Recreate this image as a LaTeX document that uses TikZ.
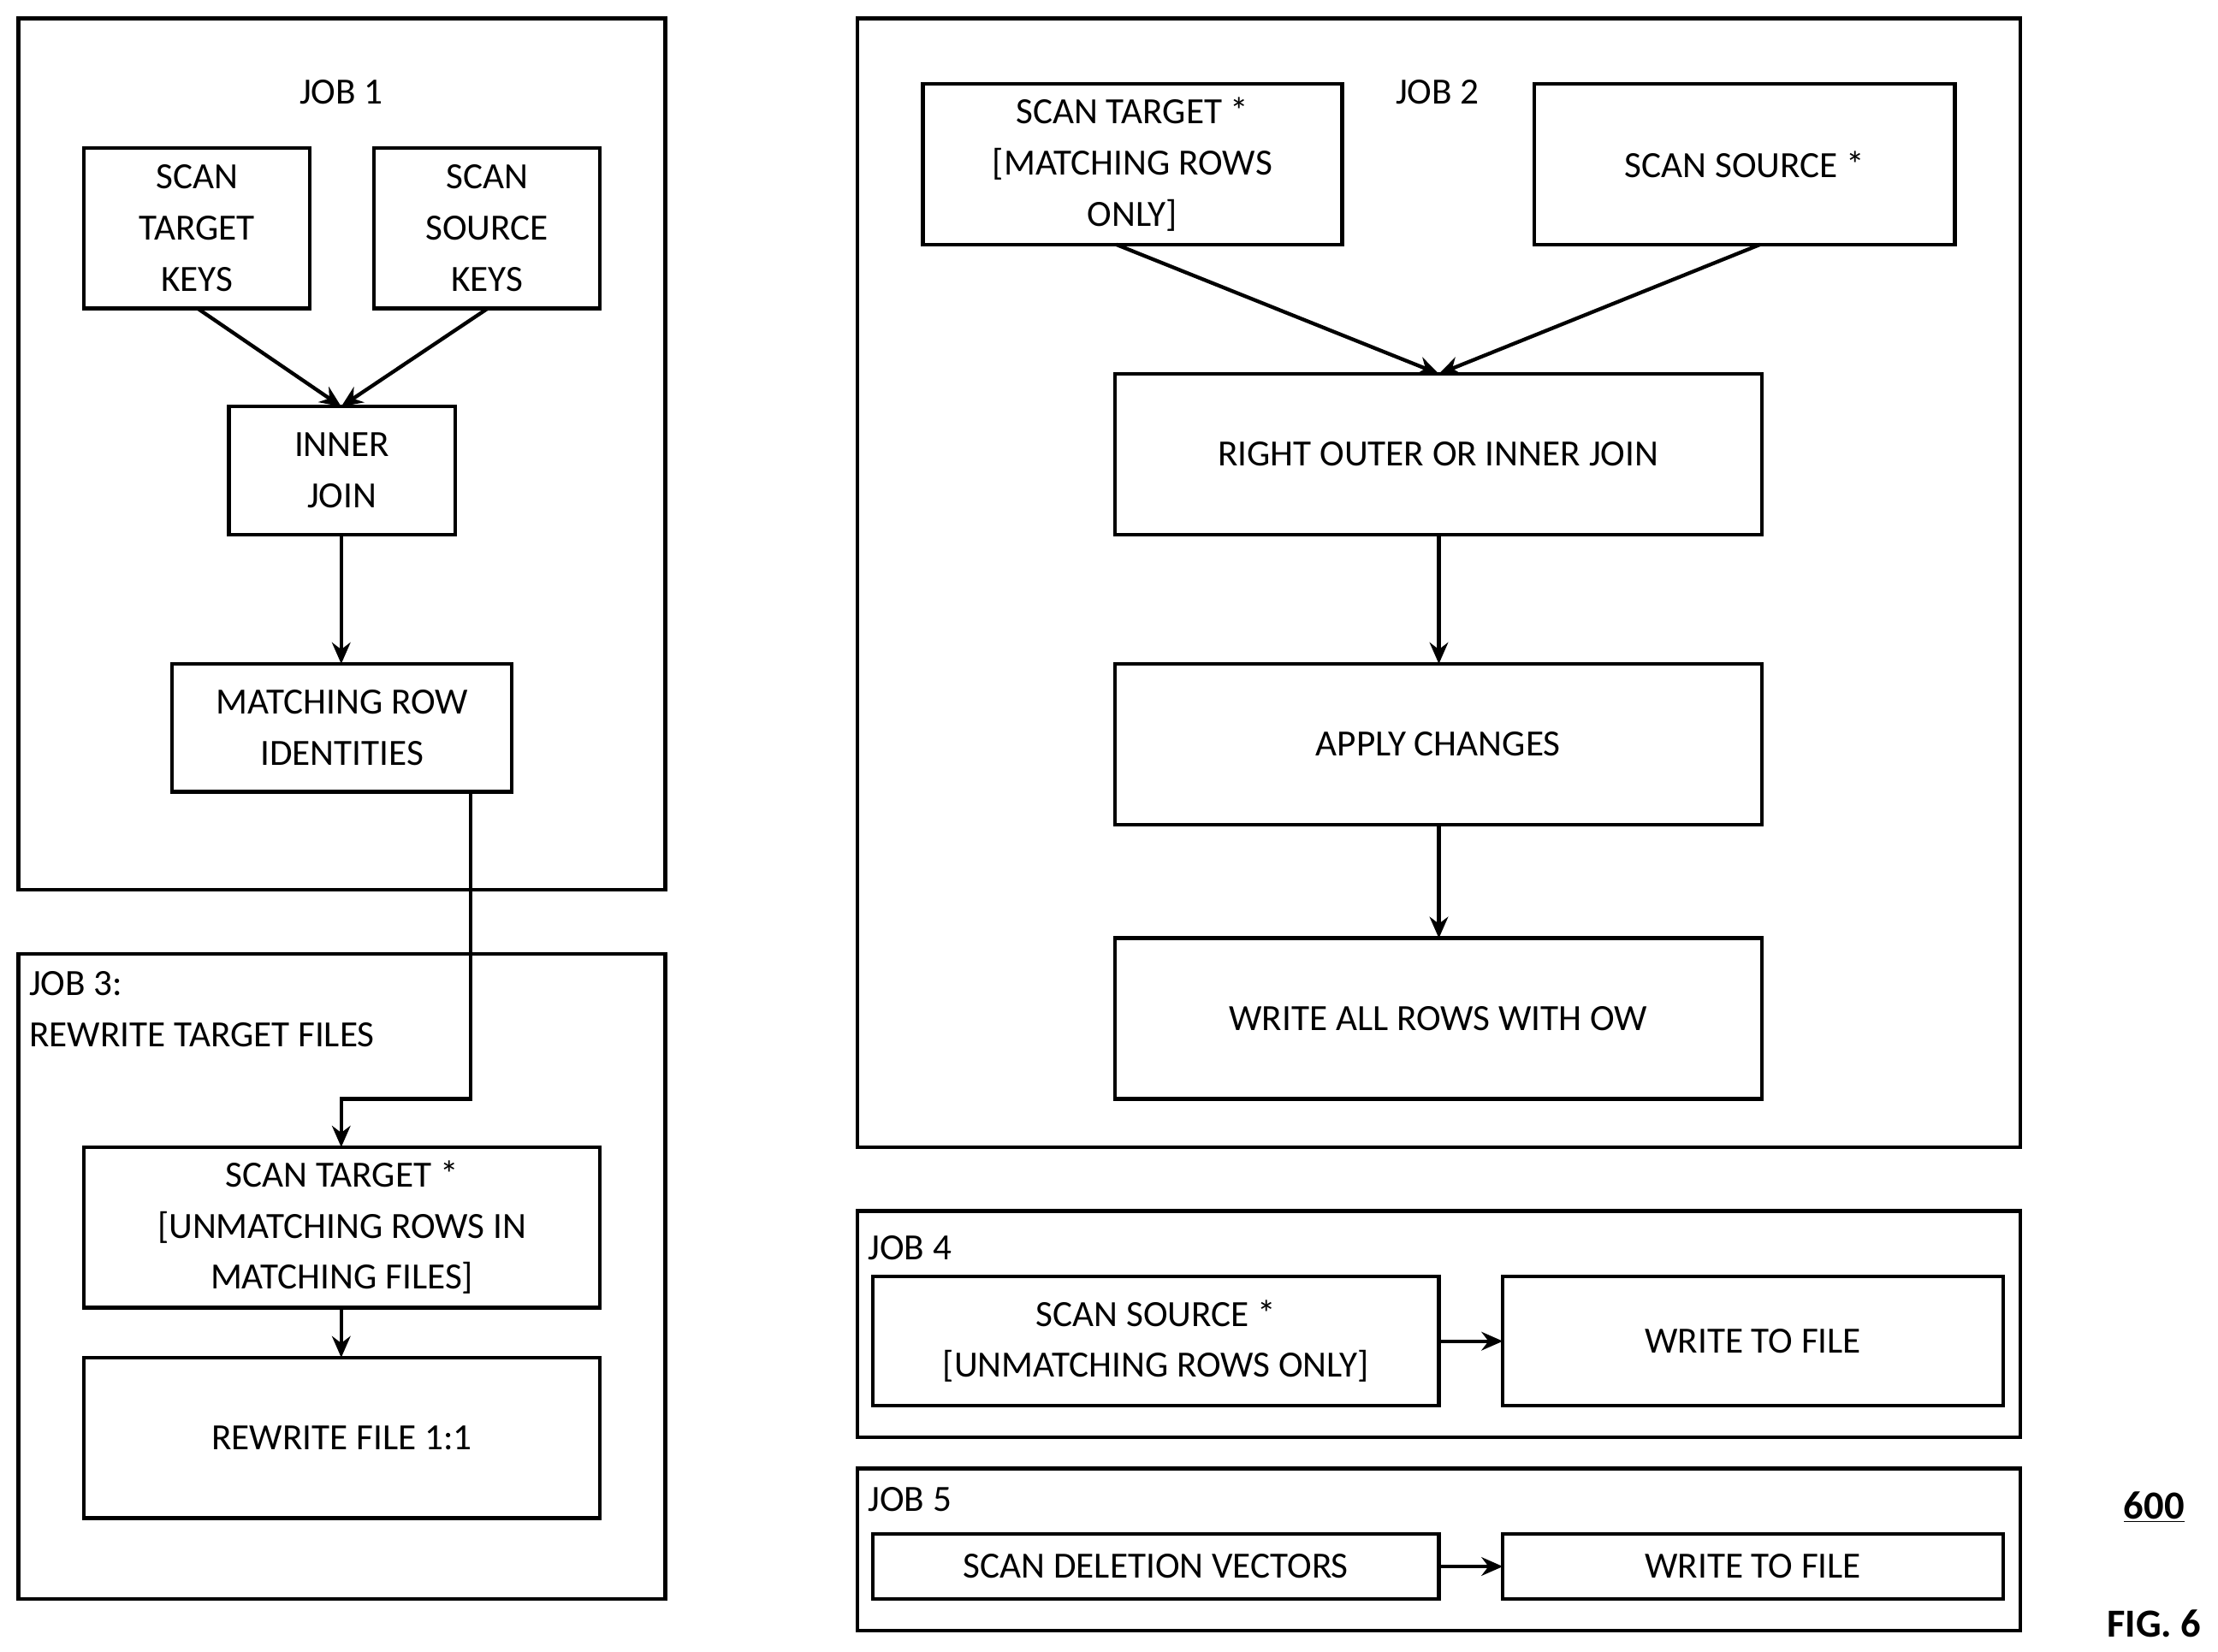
\documentclass[tikz,border=0pt]{standalone}
\usepackage{fontspec}
\setmainfont{Carlito}
\usetikzlibrary{arrows.meta}
\begin{document}
\begin{tikzpicture}[x=1pt,y=-1pt,
  box/.style={draw,line width=2.6pt},
  frame/.style={draw,line width=2.6pt},
  lbl/.style={align=center,font=\fontsize{26}{36}\selectfont},
  arr/.style={line width=2.6pt,-{Stealth[length=15pt,width=13pt]}}]
\useasboundingbox (0,0) rectangle (1560,1162);
% frames
\draw[frame] (13,13) rectangle (468,626);
\draw[frame] (13,671) rectangle (468,1125);
\draw[frame] (603,13) rectangle (1421,807);
\draw[frame] (603,852) rectangle (1421,1011);
\draw[frame] (603,1033) rectangle (1421,1147);
\node[lbl] (t1) at (240,65) {JOB 1};
\node[lbl] (t2) at (1011,65) {JOB 2};
\node[lbl,align=left,anchor=north west] (t3) at (17,680) {JOB 3:\\REWRITE TARGET FILES};
\node[lbl,anchor=west] (t4) at (607,878) {JOB 4};
\node[lbl,anchor=west] (t5) at (607,1055) {JOB 5};
% job1
\draw[box] (59,104) rectangle (218,217); \node[lbl] (stk) at (138.5,160.5) {SCAN\\TARGET\\KEYS};
\draw[box] (263,104) rectangle (422,217); \node[lbl] (ssk) at (342.5,160.5) {SCAN\\SOURCE\\KEYS};
\draw[box] (161,286) rectangle (320,376); \node[lbl] (ij) at (240.5,331) {INNER\\JOIN};
\draw[box] (121,467) rectangle (360,557); \node[lbl] (mri) at (240.5,512) {MATCHING ROW\\IDENTITIES};
\coordinate (stkb) at (139,217); \coordinate (sskb) at (343,217);
\coordinate (ijt) at (240,286); \coordinate (ijb) at (240,376); \coordinate (mrit) at (240,467);
\draw[arr] (stkb) -- (ijt);
\draw[arr] (sskb) -- (ijt);
\draw[arr] (ijb) -- (mrit);
% job3
\draw[box] (59,807) rectangle (422,920); \node[lbl] (st3) at (240.5,863.5) {SCAN TARGET *\\{[}UNMATCHING ROWS IN\\MATCHING FILES{]}};
\draw[box] (59,955) rectangle (422,1068); \node[lbl] (rw) at (240.5,1011.5) {REWRITE FILE 1:1};
\coordinate (mrib) at (331,557); \coordinate (st3t) at (240,807);
\coordinate (st3b) at (240,920); \coordinate (rwt) at (240,955);
\draw[arr] (mrib) |- (285,773) -| (st3t);
\draw[arr] (st3b) -- (rwt);
% job2
\draw[box] (649,59) rectangle (944,172); \node[lbl] (st2) at (796.5,115.5) {SCAN TARGET *\\{[}MATCHING ROWS\\ONLY{]}};
\draw[box] (1079,59) rectangle (1375,172); \node[lbl] (ss2) at (1227,115.5) {SCAN SOURCE *};
\draw[box] (784,263) rectangle (1239,376); \node[lbl] (roj) at (1011.5,319.5) {RIGHT OUTER OR INNER JOIN};
\draw[box] (784,467) rectangle (1239,580); \node[lbl] (ac) at (1011.5,523.5) {APPLY CHANGES};
\draw[box] (784,660) rectangle (1239,773); \node[lbl] (wa) at (1011.5,716.5) {WRITE ALL ROWS WITH OW};
\coordinate (st2b) at (785,172); \coordinate (ss2b) at (1238,172);
\coordinate (rojt) at (1012,263); \coordinate (rojb) at (1012,376);
\coordinate (act) at (1012,467); \coordinate (acb) at (1012,580); \coordinate (wat) at (1012,660);
\draw[arr] (st2b) -- (rojt);
\draw[arr] (ss2b) -- (rojt);
\draw[arr] (rojb) -- (act);
\draw[arr] (acb) -- (wat);
% job4
\draw[box] (614,898) rectangle (1012,989); \node[lbl] (ss4) at (813,943.5) {SCAN SOURCE *\\{[}UNMATCHING ROWS ONLY{]}};
\draw[box] (1057,898) rectangle (1409,989); \node[lbl] (wf4) at (1233,943.5) {WRITE TO FILE};
\draw[arr] (1012,943.5) -- (1057,943.5);
% job5
\draw[box] (614,1079) rectangle (1012,1125); \node[lbl] (sd5) at (813,1102) {SCAN DELETION VECTORS};
\draw[box] (1057,1079) rectangle (1409,1125); \node[lbl] (wf5) at (1233,1102) {WRITE TO FILE};
\draw[arr] (1012,1102) -- (1057,1102);
\node[lbl,font=\fontsize{28}{34}\selectfont\bfseries] (n600) at (1515,1060) {\underline{600}};
\node[lbl,font=\fontsize{28}{34}\selectfont\bfseries] (fig) at (1515,1142) {FIG. 6};
\end{tikzpicture}
\end{document}
